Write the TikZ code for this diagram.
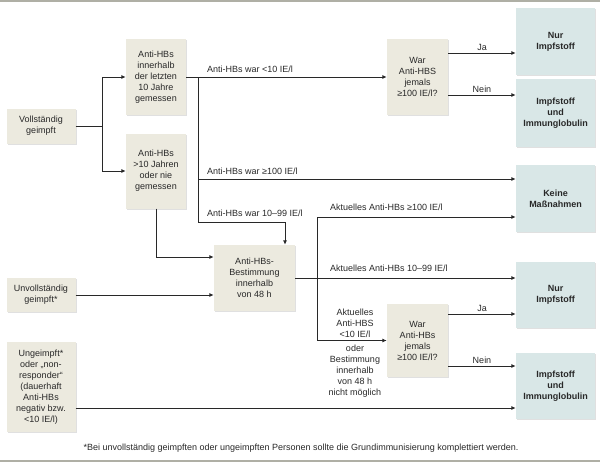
\documentclass[tikz,border=0pt]{standalone}
\usepackage{fontspec}
\setmainfont{Liberation Sans}
\usetikzlibrary{arrows.meta, positioning, shadows}
\definecolor{boxbeige}{RGB}{236,234,223}
\definecolor{boxteal}{RGB}{217,231,231}
\definecolor{linegray}{RGB}{40,40,40}
\definecolor{rulegray}{RGB}{175,175,165}
\tikzset{
    % Ausgangslage links
    ebox/.style={rectangle, fill=boxbeige, minimum width=69pt, align=center,
                inner sep=1pt, font=\fontsize{9}{11}\selectfont, text=linegray,
                drop shadow={shadow xshift=1pt, shadow yshift=-1pt, fill=black, opacity=0.12}},
    % Pruefschritte
    qbox/.style={ebox, minimum width=60pt},
    % Ergebnis
    rbox/.style={rectangle, fill=boxteal, minimum width=79pt, align=center,
                inner sep=1pt, font=\fontsize{9}{11}\selectfont\bfseries, text=linegray,
                drop shadow={shadow xshift=1pt, shadow yshift=-1pt, fill=black, opacity=0.12}},
    lbl/.style={font=\fontsize{9}{11}\selectfont, text=linegray, inner sep=1pt, align=center},
    conn/.style={draw=linegray, line width=0.9pt},
    arr/.style={conn, -{Latex[length=4.5pt, width=4pt]}},
}
\begin{document}
\begin{tikzpicture}[x=1pt, y=-1pt]
\useasboundingbox (0,0) rectangle (600,463);
\draw[rulegray, line width=1.2pt] (0,1) -- (600,1);
\draw[rulegray, line width=1.2pt] (0,461) -- (600,461);

% Ausgangslage
\node[ebox, minimum height=35pt] (voll)   at (41,126)  {Vollständig\\geimpft};
\node[ebox, minimum height=34pt] (unvoll) at (41,295)  {Unvollständig\\geimpft*};
\node[ebox, minimum height=90pt] (unge)   at (41,387)  {Ungeimpft*\\oder „non-\\responder“\\(dauerhaft\\Anti-HBs\\negativ bzw.\\<10 IE/l)};

% Pruefung
\node[qbox, minimum height=76pt] (inner) at (156,77)  {Anti-HBs\\innerhalb\\der letzten\\10 Jahre\\gemessen};
\node[qbox, minimum height=75pt] (ueber) at (156,171) {Anti-HBs\\>10 Jahren\\oder nie\\gemessen};
\node[qbox, minimum width=81pt, minimum height=66pt] (best) at (254.5,278) {Anti-HBs-\\Bestimmung\\innerhalb\\von 48 h};
\node[qbox, minimum width=61pt, minimum height=76pt] (war1) at (417.5,77)    {War\\Anti-HBS\\jemals\\≥100 IE/l?};
\node[qbox, minimum width=61pt, minimum height=73pt] (war2) at (417.5,340.5) {War\\Anti-HBs\\jemals\\≥100 IE/l?};

% Ergebnis
\node[rbox, minimum height=67pt] (nur1)  at (555.5,41.5)  {Nur\\Impfstoff};
\node[rbox, minimum height=68pt] (ii1)   at (555.5,113)   {Impfstoff\\und\\Immunglobulin};
\node[rbox, minimum height=67pt] (keine) at (555.5,198.5) {Keine\\Maßnahmen};
\node[rbox, minimum height=66pt] (nur2)  at (555.5,295)   {Nur\\Impfstoff};
\node[rbox, minimum height=66pt] (ii2)   at (555.5,386)   {Impfstoff\\und\\Immunglobulin};

% Verzweigungen
\coordinate (s1) at (102,126);
\coordinate (j1) at (198,77);
\coordinate (j2) at (198,179);
\coordinate (j3) at (198,222);
\coordinate (j4) at (285,222);
\coordinate (j5) at (156,257);
\coordinate (j6) at (317,217);
\coordinate (j7) at (317,340.5);

\draw[conn] (voll) -- (s1);
\draw[arr] (s1) |- (inner);
\draw[arr] (s1) |- (ueber);
\draw[arr] (inner) -- (war1);
\draw[conn] (j1) -- (j3);
\draw[arr] (j2) -- (j2 -| keine.west);
\draw[arr] (j3) -- (j4) -- (j4 |- best.north);
\draw[arr] (ueber) -- (j5) -- (j5 -| best.west);
\draw[arr] (unvoll) -- (unvoll -| best.west);
\draw[arr] (best) -- (best -| nur2.west);
\draw[conn] (j6) -- (j7);
\draw[arr] (j6) -- (j6 -| keine.west);
\draw[arr] (j7) -- (war2);
\draw[arr] ([yshift=-21pt]unge.east) -- ([yshift=-21pt]unge.east -| ii2.west);

\draw[arr] ([yshift=24pt]war1.east) -- ([yshift=24pt]war1.east -| nur1.west)
    node[lbl, midway, above=1pt] (ja1) {Ja};
\draw[arr] ([yshift=-18pt]war1.east) -- ([yshift=-18pt]war1.east -| ii1.west)
    node[lbl, midway, above=1pt] (nein1) {Nein};
\draw[arr] ([yshift=26.5pt]war2.east) -- ([yshift=26.5pt]war2.east -| nur2.west)
    node[lbl, midway, above=1pt] (ja2) {Ja};
\draw[arr] ([yshift=-25.5pt]war2.east) -- ([yshift=-25.5pt]war2.east -| ii2.west)
    node[lbl, midway, above=1pt] (nein2) {Nein};

% Beschriftungen
\node[lbl, anchor=west] (l1) at (206,69)  {Anti-HBs war <10 IE/l};
\node[lbl, anchor=west] (l2) at (206,171) {Anti-HBs war ≥100 IE/l};
\node[lbl, anchor=west] (l3) at (206,213) {Anti-HBs war 10–99 IE/l};
\node[lbl, anchor=west] (l4) at (329,207) {Aktuelles Anti-HBs ≥100 IE/l};
\node[lbl, anchor=west] (l5) at (329,268) {Aktuelles Anti-HBs 10–99 IE/l};
\node[lbl] (l6) at (355,323) {Aktuelles\\Anti-HBS\\<10 IE/l};
\node[lbl] (l7) at (355,371) {oder\\Bestimmung\\innerhalb\\von 48 h\\nicht möglich};

\node[lbl] (fn) at (301,448) {*Bei unvollständig geimpften oder ungeimpften Personen sollte die Grundimmunisierung komplettiert werden.};
\end{tikzpicture}
\end{document}
